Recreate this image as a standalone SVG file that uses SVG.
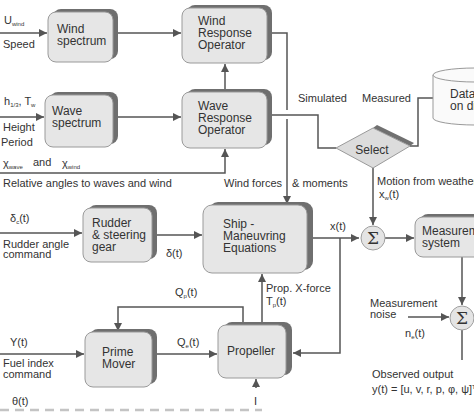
<svg xmlns="http://www.w3.org/2000/svg" width="474" height="412" viewBox="0 0 474 412">
<defs>
<marker id="ah" viewBox="0 0 10 10" refX="10" refY="5" markerWidth="9" markerHeight="8" markerUnits="userSpaceOnUse" orient="auto">
<path d="M0,0 L10,5 L0,10 Z" fill="#555"/>
</marker>
<style>
text{font-family:"Liberation Sans",Arial,sans-serif;font-size:11px;fill:#333}
.nt{font-size:12px}
.sub{font-size:6px}
.box{fill:#e6e6e6;stroke:#9a9a9a;stroke-width:1}
.sh{fill:#6f6f6f}
.ln{fill:none;stroke:#555;stroke-width:1.5}
.sum{fill:#e4e4e4;stroke:#a0a0a0;stroke-width:1}
.sig{font-family:"DejaVu Serif",serif;font-size:17px;fill:#333}
</style>
</defs>
<rect width="474" height="412" fill="#fff"/>

<g id="connectors">
<path class="ln" d="M0,33 H47" marker-end="url(#ah)"/>
<path class="ln" d="M118,33 H181" marker-end="url(#ah)"/>
<path class="ln" d="M0,117 H44" marker-end="url(#ah)"/>
<path class="ln" d="M118,117 H181" marker-end="url(#ah)"/>
<path class="ln" d="M0,173 H225 V149" marker-end="url(#ah)"/>
<path class="ln" d="M225,92 V64" marker-end="url(#ah)"/>
<path class="ln" d="M272,33 H287 V110"/>
<path class="ln" d="M287,119 V204" marker-end="url(#ah)"/>
<path class="ln" d="M272,115 H318 V148 H336"/>
<path class="ln" d="M410,146 H418 V98 H433"/>
<path class="ln" d="M373,168 V225" marker-end="url(#ah)"/>
<path class="ln" d="M0,233 H82" marker-end="url(#ah)"/>
<path class="ln" d="M157,235 H202" marker-end="url(#ah)"/>
<path class="ln" d="M313,238 H359" marker-end="url(#ah)"/>
<path class="ln" d="M385,238 H414" marker-end="url(#ah)"/>
<path class="ln" d="M340,238 V353 H293" marker-end="url(#ah)"/>
<path class="ln" d="M462,257 V305" marker-end="url(#ah)"/>
<path class="ln" d="M408,317 H449" marker-end="url(#ah)"/>
<path class="ln" d="M462,330 V360"/>
<path class="ln" d="M262,325 V274" marker-end="url(#ah)"/>
<path class="ln" d="M243,325 V307 H118 V331" marker-end="url(#ah)"/>
<path class="ln" d="M0,354 H84" marker-end="url(#ah)"/>
<path class="ln" d="M157,354 H217" marker-end="url(#ah)"/>
<path class="ln" d="M256,388 V379" marker-end="url(#ah)"/>
<path d="M0,410 H262" stroke="#c4c4c4" stroke-width="2.5" stroke-dasharray="9,6"/>
</g>

<g id="wind-spectrum">
<rect class="sh" x="53" y="9" width="65" height="50" rx="8"/>
<rect class="box" x="48" y="12" width="65" height="50" rx="8"/>
<text class="nt" x="57" y="33">Wind</text>
<text class="nt" x="57" y="45">spectrum</text>
</g>

<g id="wind-response">
<rect class="sh" x="187" y="5" width="85" height="55" rx="8"/>
<rect class="box" x="182" y="8" width="85" height="55" rx="8"/>
<text class="nt" x="198" y="25">Wind</text>
<text class="nt" x="198" y="37">Response</text>
<text class="nt" x="198" y="49">Operator</text>
</g>

<g id="wave-spectrum">
<rect class="sh" x="50" y="92" width="68" height="52" rx="8"/>
<rect class="box" x="45" y="95" width="68" height="52" rx="8"/>
<text class="nt" x="52" y="115">Wave</text>
<text class="nt" x="52" y="127">spectrum</text>
</g>

<g id="wave-response">
<rect class="sh" x="187" y="89" width="85" height="56" rx="8"/>
<rect class="box" x="182" y="92" width="85" height="56" rx="8"/>
<text class="nt" x="198" y="110">Wave</text>
<text class="nt" x="198" y="122">Response</text>
<text class="nt" x="198" y="134">Operator</text>
</g>

<g id="select">
<polygon points="373,128 377,125 414,143 410,146" fill="#707070"/>
<polygon points="336,148 373,128 410,146 373,168" fill="#dcdcdc" stroke="#9a9a9a" stroke-width="1"/>
<text class="nt" x="372" y="154" text-anchor="middle">Select</text>
</g>

<g id="data-on-disk">
<path d="M433,75 V118 A42,7 0 0 0 517,118 V75" fill="#fafafa" stroke="#999" stroke-width="1"/>
<ellipse cx="475" cy="75" rx="42" ry="7" fill="#fafafa" stroke="#999" stroke-width="1"/>
<text class="nt" x="450" y="98">Data</text>
<text class="nt" x="450" y="110">on disk</text>
</g>

<g id="rudder">
<rect class="sh" x="88" y="205" width="69" height="54" rx="8"/>
<rect class="box" x="83" y="208" width="69" height="54" rx="8"/>
<text class="nt" x="92" y="227">Rudder</text>
<text class="nt" x="92" y="239">&amp; steering</text>
<text class="nt" x="92" y="251">gear</text>
</g>

<g id="ship">
<rect class="sh" x="209" y="202" width="104" height="68" rx="9"/>
<rect class="box" x="203" y="205" width="104" height="68" rx="9"/>
<text class="nt" x="223" y="228">Ship -</text>
<text class="nt" x="223" y="240">Maneuvring</text>
<text class="nt" x="223" y="252">Equations</text>
</g>

<g id="sum1">
<circle class="sum" cx="373" cy="238" r="12"/>
<text class="sig" x="373" y="244" text-anchor="middle">Σ</text>
</g>

<g id="measurement-system">
<rect class="sh" x="420" y="214" width="80" height="40" rx="8"/>
<rect class="box" x="415" y="217" width="80" height="40" rx="8"/>
<text class="nt" x="422" y="235">Measurement</text>
<text class="nt" x="422" y="247">system</text>
</g>

<g id="sum2">
<circle class="sum" cx="462" cy="318" r="12"/>
<text class="sig" x="462" y="324" text-anchor="middle">Σ</text>
</g>

<g id="prime-mover">
<rect class="sh" x="90" y="329" width="67" height="55" rx="8"/>
<rect class="box" x="85" y="332" width="67" height="55" rx="8"/>
<text class="nt" x="102" y="356">Prime</text>
<text class="nt" x="102" y="368">Mover</text>
</g>

<g id="propeller">
<rect class="sh" x="224" y="322" width="68" height="53" rx="8"/>
<rect class="box" x="218" y="325" width="68" height="53" rx="8"/>
<text class="nt" x="227" y="355">Propeller</text>
</g>

<g id="labels">
<text x="4" y="24">U<tspan class="sub" dy="2">wind</tspan></text>
<text x="3" y="48">Speed</text>
<text x="4" y="105">h<tspan class="sub" dy="2">1/3</tspan><tspan dy="-2">, T</tspan><tspan class="sub" dy="2">w</tspan></text>
<text x="3" y="131">Height</text>
<text x="1" y="146">Period</text>
<text x="3" y="167">χ<tspan class="sub" dy="2">wave</tspan></text>
<text x="33" y="166">and</text>
<text x="62" y="167">χ<tspan class="sub" dy="2">wind</tspan></text>
<text x="3" y="187">Relative angles to waves and wind</text>
<text x="224" y="187">Wind forces</text>
<text x="292" y="187">&amp; moments</text>
<text x="298" y="102">Simulated</text>
<text x="362" y="102">Measured</text>
<text x="377" y="185">Motion from weather</text>
<text x="379" y="198">x<tspan class="sub" dy="2">w</tspan><tspan dy="-2">(t)</tspan></text>
<text x="10" y="222">δ<tspan class="sub" dy="2">c</tspan><tspan dy="-2">(t)</tspan></text>
<text x="3" y="248">Rudder angle</text>
<text x="3" y="258">command</text>
<text x="166" y="257">δ(t)</text>
<text x="330" y="230">x(t)</text>
<text x="175" y="296">Q<tspan class="sub" dy="2">p</tspan><tspan dy="-2">(t)</tspan></text>
<text x="266" y="292">Prop. X-force</text>
<text x="266" y="305">T<tspan class="sub" dy="2">p</tspan><tspan dy="-2">(t)</tspan></text>
<text x="370" y="307">Measurement</text>
<text x="370" y="318">noise</text>
<text x="405" y="337">n<tspan class="sub" dy="2">e</tspan><tspan dy="-2">(t)</tspan></text>
<text x="10" y="346">Y(t)</text>
<text x="3" y="367">Fuel index</text>
<text x="3" y="378">command</text>
<text x="177" y="346">Q<tspan class="sub" dy="2">e</tspan><tspan dy="-2">(t)</tspan></text>
<text x="372" y="378">Observed output</text>
<text x="372" y="393">y(t) = [u, v, r, p, φ, ψ]<tspan class="sub" dy="-4">T</tspan></text>
<text x="12" y="405">θ(t)</text>
<text x="254" y="405">I</text>
</g>
</svg>
